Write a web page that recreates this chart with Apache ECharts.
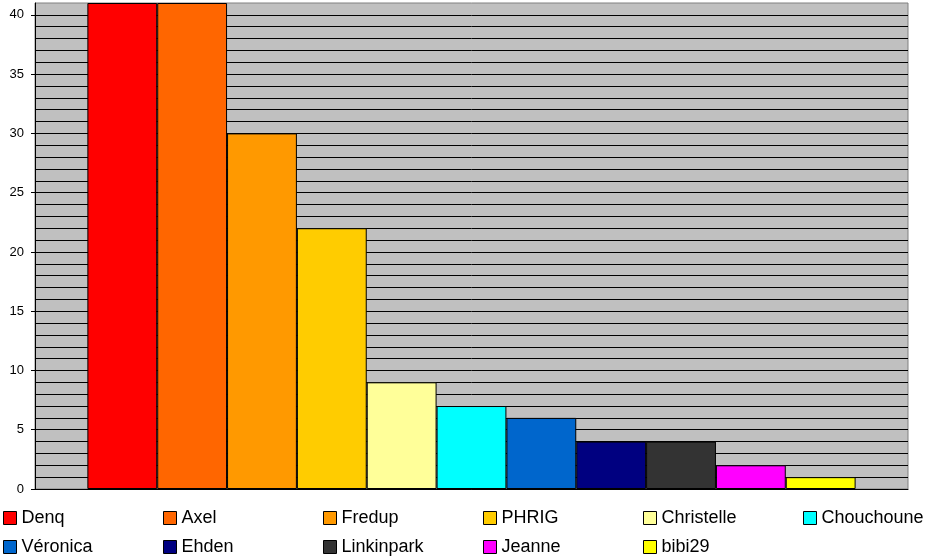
<!DOCTYPE html>
<html>
<head>
<meta charset="utf-8">
<script src="https://cdn.jsdelivr.net/npm/echarts@6/dist/echarts.min.js"></script>
</head>
<body style="margin:0;background:#fff;">
<div id="chart" style="width:930px;height:560px;"></div>
<script type="text/javascript">
var names = ['Denq', 'Axel', 'Fredup', 'PHRIG', 'Christelle', 'Chouchoune', 'Véronica', 'Ehden', 'Linkinpark', 'Jeanne', 'bibi29'];
var values = [41, 41, 30, 22, 9, 7, 6, 4, 4, 2, 1];
var yTicks = [0, 5, 10, 15, 20, 25, 30, 35, 40];
var palette = ['#ff0000', '#ff6600', '#ff9900', '#ffcc00', '#ffff99', '#00ffff', '#0066cc', '#000080', '#333333', '#ff00ff', '#ffff00'];

var myChart = echarts.init(document.getElementById('chart'));

var series = [];
var legends = [];
for (var i = 0; i < names.length; i++) {
    series.push({
        name: names[i],
        type: 'bar',
        barGap: '0%',
        barCategoryGap: '12%',
        data: [values[i]],
        itemStyle: { color: palette[i], borderColor: '#000', borderWidth: 1 }
    });
    // une légende par case, grille 6 colonnes
    legends.push({
        data: [names[i]],
        left: 3 + (i % 6) * 160,
        top: i < 6 ? 509 : 538,
        padding: 0,
        icon: 'rect',
        itemWidth: 13,
        itemHeight: 13,
        itemStyle: { borderColor: '#000', borderWidth: 1 },
        textStyle: { fontFamily: 'Liberation Sans', fontSize: 18, color: '#000' },
        selectedMode: false
    });
}

var option = {
    animation: false,
    grid: {
        left: 35, top: 3, right: 22, bottom: 71,
        show: true,
        backgroundColor: '#c0c0c0',
        borderColor: '#808080',
        borderWidth: 1
    },
    legend: legends,
    xAxis: {
        type: 'category',
        data: [''],
        axisLine: { lineStyle: { color: '#000' } },
        axisTick: { show: false },
        axisLabel: { show: false }
    },
    yAxis: [{
        type: 'value',
        min: 0,
        max: 41,
        axisLine: { show: true, lineStyle: { color: '#000' } },
        axisTick: { show: true, length: 4, customValues: yTicks, lineStyle: { color: '#000' } },
        axisLabel: {
            customValues: yTicks,
            margin: 11,
            fontFamily: 'Liberation Sans',
            fontSize: 13,
            color: '#000'
        },
        splitLine: { show: false }
    }, {
        // axe caché, seulement pour le quadrillage (1 unité)
        type: 'value',
        position: 'left',
        min: 0,
        max: 41,
        interval: 1,
        axisLine: { show: false },
        axisTick: { show: false },
        axisLabel: { show: false },
        splitLine: { show: true, showMaxLine: false, lineStyle: { color: '#000', width: 1 } }
    }],
    series: series
};
myChart.setOption(option);
</script>
</body>
</html>
